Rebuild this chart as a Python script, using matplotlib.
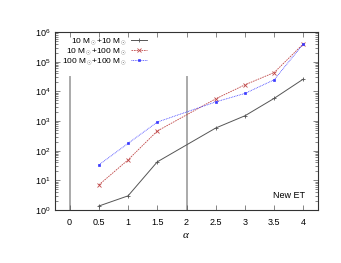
import matplotlib
matplotlib.use("Agg")
import matplotlib.pyplot as plt
from matplotlib.ticker import LogLocator, NullFormatter, FixedLocator

alpha = [0.5, 1, 1.5, 2.5, 3, 3.5, 4]
s_10_10 = [1.36, 3.0, 42, 580, 1500, 5800, 26000]
s_10_100 = [7.0, 49, 460, 5600, 16600, 43000, 400000]
s_100_100 = [33, 176, 920, 4400, 8500, 24500, 400000]
vlines_x = [0, 2]
vline_top = 3e4
xticks = [0, 0.5, 1, 1.5, 2, 2.5, 3, 3.5, 4]
xticklabels = ["0", "0.5", "1", "1.5", "2", "2.5", "3", "3.5", "4"]

plt.rcParams['font.family'] = ['Liberation Sans', 'DejaVu Sans']
plt.rcParams['mathtext.fontset'] = 'custom'
plt.rcParams['mathtext.rm'] = 'Liberation Sans'
plt.rcParams['mathtext.it'] = 'Liberation Serif:italic'

fig = plt.figure(figsize=(3.41, 2.63), dpi=100)
ax = fig.add_axes([55/341, 1-210/263, (318-55)/341, (210-32)/263])

for xv in vlines_x:
    ax.plot([xv, xv], [1, vline_top], color='#aaaaaa', lw=1.4, zorder=1)

ax.plot(alpha, s_10_10, color='#555555', lw=0.7, marker='+', ms=2.5, mew=0.6,
        label=r'10 M$_\odot$+10 M$_\odot$')
ax.plot(alpha, s_10_100, color='#c04848', lw=0.6, ls=(0, (2, 1)), marker='x', ms=2.2, mew=0.6,
        label=r'10 M$_\odot$+100 M$_\odot$')
ax.plot(alpha, s_100_100, color='#3a3aff', lw=0.6, ls=(0, (1, 1)), marker='s', ms=1.6, mew=0.5,
        label=r'100 M$_\odot$+100 M$_\odot$')

ax.set_yscale('log')
ax.set_ylim(1, 1e6)
ax.set_xlim(-0.25, 4.25)
ax.xaxis.set_major_locator(FixedLocator(xticks))
ax.set_xticklabels(xticklabels)
ax.yaxis.set_major_locator(LogLocator(base=10, numticks=10))
ax.yaxis.set_minor_locator(LogLocator(base=10, subs=(2, 3, 4, 5, 6, 7, 8, 9), numticks=10))
ax.yaxis.set_minor_formatter(NullFormatter())
ax.tick_params(which='both', direction='in', top=True, right=True, labelsize=6.5,
               color='#555555', width=0.5)
ax.tick_params(which='major', length=3.5)
ax.tick_params(which='minor', length=2)
ax.tick_params(axis='x', pad=6)
for sp in ax.spines.values():
    sp.set_linewidth(0.8)
    sp.set_color('#333333')

ax.set_xlabel(r'$\alpha$', fontsize=8, labelpad=2)
ax.text(4.02, 3.0, 'New ET', ha='right', va='center', fontsize=6.5)

leg = ax.legend(loc='upper right', bbox_to_anchor=(0.355, 0.985), frameon=False, fontsize=6,
                markerfirst=False, handlelength=1.9, handletextpad=0.5,
                labelspacing=-0.1, borderaxespad=0.0, borderpad=0.2)

fig.savefig('out.png', dpi=100)
